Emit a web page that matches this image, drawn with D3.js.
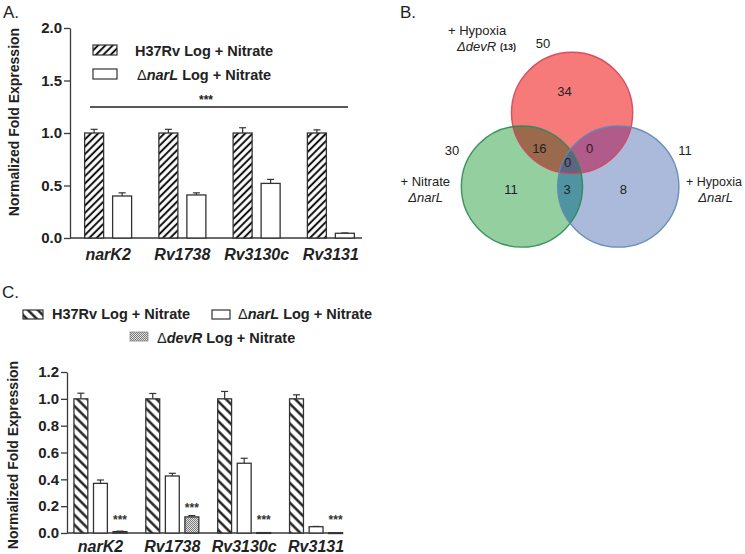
<!DOCTYPE html>
<html>
<head>
<meta charset="utf-8">
<script src="https://cdn.jsdelivr.net/npm/d3@7"></script>
<style>
  html, body { margin: 0; padding: 0; background: #fff; }
  svg { display: block; font-family: "Liberation Sans", Arial, sans-serif; }
</style>
</head>
<body>
<svg id="chart" width="745" height="554"></svg>
<script>
// ---------------- DATA ----------------
const genes = ["narK2", "Rv1738", "Rv3130c", "Rv3131"];

// Panel A
const seriesA = ["H37Rv", "narL"];
const h37rvA = [1.0, 1.0, 1.0, 1.0];
const h37rvErrA = [0.035, 0.035, 0.05, 0.03];
const narLA = [0.40, 0.41, 0.52, 0.045];
const narLErrA = [0.03, 0.02, 0.038, 0.003];
const yTicksA = [0.0, 0.5, 1.0, 1.5, 2.0];

// Panel C
const seriesC = ["H37Rv", "narL", "devR"];
const h37rvC = [1.0, 1.0, 1.0, 1.0];
const h37rvErrC = [0.042, 0.04, 0.055, 0.03];
const narLC = [0.37, 0.425, 0.52, 0.047];
const narLErrC = [0.025, 0.02, 0.037, 0.002];
const devRC = [0.01, 0.12, 0.003, 0.002];
const devRErrC = [0.004, 0.01, 0.0, 0.0];
const yTicksC = [0.0, 0.2, 0.4, 0.6, 0.8, 1.0, 1.2];

// Panel B (Venn)
const vennSets = ["devR", "nitrate", "hypoxia"];
const vennTotals = [50, 30, 11];
const vennRegions = ["devROnly", "devR_nitrate", "devR_hypoxia", "all", "nitrateOnly", "nitrate_hypoxia", "hypoxiaOnly"];
const vennCounts = [34, 16, 0, 0, 11, 3, 8];

// ---------------- DRAW ----------------
const svg = d3.select("#chart");
const defs = svg.append("defs");
const axisColor = "#3a3a3a";

function hatch(id, angle, spacing, sw) {
  const p = defs.append("pattern").attr("id", id).attr("patternUnits", "userSpaceOnUse")
    .attr("width", spacing).attr("height", spacing)
    .attr("patternTransform", `rotate(${angle})`);
  p.append("rect").attr("width", spacing).attr("height", spacing).attr("fill", "#fff");
  p.append("line").attr("x1", spacing / 2).attr("x2", spacing / 2).attr("y1", 0).attr("y2", spacing)
    .attr("stroke", "#111").attr("stroke-width", sw);
}
hatch("hatchA", 45, 5.2, 2);
hatch("hatchC", -45, 7, 2.3);
(function () {
  const p = defs.append("pattern").attr("id", "checker").attr("patternUnits", "userSpaceOnUse")
    .attr("width", 2).attr("height", 2);
  p.append("rect").attr("width", 2).attr("height", 2).attr("fill", "#e4e4e4");
  p.append("rect").attr("width", 1).attr("height", 1).attr("fill", "#7a7a7a");
  p.append("rect").attr("x", 1).attr("y", 1).attr("width", 1).attr("height", 1).attr("fill", "#7a7a7a");
})();

function panelLabel(x, y, t) {
  svg.append("text").attr("x", x).attr("y", y).attr("font-size", 17).attr("fill", "#222").text(t);
}

function yTitle(cx, cy) {
  svg.append("text").attr("transform", `translate(${cx},${cy}) rotate(-90)`)
    .attr("text-anchor", "middle").attr("font-size", 14).attr("font-weight", "bold").attr("fill", "#222")
    .text("Normalized Fold Expression");
}

function deltaText(sel, gene, rest) {
  sel.append("tspan").attr("font-weight", "normal").text("\u0394");
  sel.append("tspan").attr("font-style", "italic").text(gene);
  sel.append("tspan").text(rest);
}

function barPanel(opts) {
  const { x0, x1, xAxisEnd, yTop, yBottom, domainMax, ticks, tickFmt, series, values, errs,
    fills, innerWidth, innerPad, labelY } = opts;
  const y = d3.scaleLinear().domain([0, domainMax]).range([yBottom, yTop]);
  const xg = d3.scaleBand().domain(genes).range([x0, x1]);
  const xi = d3.scaleBand().domain(series).range([0, innerWidth]).paddingInner(innerPad);
  const g = svg.append("g");

  // y axis
  const yAxis = d3.axisLeft(y).tickValues(ticks).tickFormat(tickFmt).tickSize(6).tickSizeOuter(0);
  const ya = g.append("g").attr("transform", `translate(${opts.axisX},0)`).call(yAxis);
  ya.select(".domain").attr("stroke", axisColor).attr("stroke-width", 1.3);
  ya.selectAll(".tick line").attr("stroke", axisColor).attr("stroke-width", 1.3);
  ya.selectAll(".tick text").attr("font-size", 15).attr("font-weight", "bold").attr("fill", "#222")
    .attr("font-family", "Liberation Sans, Arial, sans-serif").attr("x", -8);

  // x axis line
  g.append("line").attr("x1", opts.axisX).attr("x2", xAxisEnd).attr("y1", y(0)).attr("y2", y(0))
    .attr("stroke", axisColor).attr("stroke-width", 1.3);

  // bars
  series.forEach((s, si) => {
    genes.forEach((gene, gi) => {
      const v = values[si][gi], e = errs[si][gi];
      const bx = xg(gene) + xg.bandwidth() / 2 - innerWidth / 2 + xi(s);
      const bw = xi.bandwidth();
      if (e > 0) {
        const cx = bx + bw / 2;
        g.append("line").attr("x1", cx).attr("x2", cx).attr("y1", y(v)).attr("y2", y(v + e))
          .attr("stroke", "#333").attr("stroke-width", 1.2);
        g.append("line").attr("x1", cx - 3.5).attr("x2", cx + 3.5).attr("y1", y(v + e)).attr("y2", y(v + e))
          .attr("stroke", "#333").attr("stroke-width", 1.2);
      }
      g.append("rect").attr("x", bx).attr("y", y(v)).attr("width", bw).attr("height", Math.max(0.8, y(0) - y(v)))
        .attr("fill", fills[si]).attr("stroke", "#333").attr("stroke-width", 1.3);
      if (opts.stars && opts.stars[si]) {
        g.append("text").attr("x", bx + bw / 2).attr("y", Math.min(y(v + e) - 4, y(0) - 9))
          .attr("text-anchor", "middle").attr("font-size", 12).attr("font-weight", "bold").attr("fill", "#333")
          .text("***");
      }
    });
  });

  // x labels
  g.selectAll("text.xl").data(genes).enter().append("text").attr("class", "xl")
    .attr("x", d => xg(d) + xg.bandwidth() / 2).attr("y", labelY).attr("text-anchor", "middle")
    .attr("font-size", 16).attr("font-weight", "bold").attr("font-style", "italic").attr("fill", "#222")
    .text(d => d);
  return { y, xg };
}

// ---------- Panel A ----------
panelLabel(3, 18, "A.");
yTitle(19, 122);
barPanel({
  axisX: 70, x0: 71, x1: 368, xAxisEnd: 362, yTop: 28, yBottom: 238, domainMax: 2.0,
  ticks: yTicksA, tickFmt: d3.format(".1f"), series: seriesA,
  values: [h37rvA, narLA], errs: [h37rvErrA, narLErrA],
  fills: ["url(#hatchA)", "#fff"], innerWidth: 47, innerPad: 9 / 28, labelY: 260
});
// legend A
svg.append("rect").attr("x", 93).attr("y", 45).attr("width", 24).attr("height", 10)
  .attr("fill", "url(#hatchA)").attr("stroke", "#333").attr("stroke-width", 1.2);
svg.append("text").attr("x", 135).attr("y", 55.5).attr("font-size", 14.5).attr("font-weight", "bold")
  .attr("fill", "#222").text("H37Rv Log + Nitrate");
svg.append("rect").attr("x", 93).attr("y", 69).attr("width", 24).attr("height", 10)
  .attr("fill", "#fff").attr("stroke", "#333").attr("stroke-width", 1.2);
deltaText(svg.append("text").attr("x", 137).attr("y", 79.5).attr("font-size", 14.5).attr("font-weight", "bold")
  .attr("fill", "#222"), "narL", " Log + Nitrate");
// significance line
svg.append("line").attr("x1", 90).attr("x2", 348).attr("y1", 107).attr("y2", 107)
  .attr("stroke", "#222").attr("stroke-width", 1.5);
svg.append("text").attr("x", 206).attr("y", 104).attr("text-anchor", "middle").attr("font-size", 12)
  .attr("font-weight", "bold").attr("fill", "#222").text("***");

// ---------- Panel C ----------
panelLabel(2, 298, "C.");
yTitle(18, 455);
barPanel({
  axisX: 67, x0: 64.5, x1: 352, xAxisEnd: 343, yTop: 372, yBottom: 533, domainMax: 1.2,
  ticks: yTicksC, tickFmt: d3.format(".1f"), series: seriesC,
  values: [h37rvC, narLC, devRC], errs: [h37rvErrC, narLErrC, devRErrC],
  fills: ["url(#hatchC)", "#fff", "url(#checker)"], innerWidth: 53, innerPad: 0.29, labelY: 552,
  stars: [false, false, true]
});
// legend C
svg.append("rect").attr("x", 23).attr("y", 310).attr("width", 20).attr("height", 9)
  .attr("fill", "url(#hatchC)").attr("stroke", "#333").attr("stroke-width", 1.2);
svg.append("text").attr("x", 52).attr("y", 319).attr("font-size", 14.5).attr("font-weight", "bold")
  .attr("fill", "#222").text("H37Rv Log + Nitrate");
svg.append("rect").attr("x", 212).attr("y", 310).attr("width", 18).attr("height", 9)
  .attr("fill", "#fff").attr("stroke", "#333").attr("stroke-width", 1.2);
deltaText(svg.append("text").attr("x", 238).attr("y", 319).attr("font-size", 14.5).attr("font-weight", "bold")
  .attr("fill", "#222"), "narL", " Log + Nitrate");
svg.append("rect").attr("x", 130).attr("y", 332).attr("width", 18).attr("height", 9)
  .attr("fill", "url(#checker)").attr("stroke", "#888").attr("stroke-width", 0.8);
deltaText(svg.append("text").attr("x", 157).attr("y", 342.5).attr("font-size", 14.5).attr("font-weight", "bold")
  .attr("fill", "#222"), "devR", " Log + Nitrate");

// ---------- Panel B (Venn) ----------
panelLabel(400, 18, "B.");
// layout of circles (unit coordinates), scaled into panel
const vx = d3.scaleLinear().domain([0, 1]).range([462, 680]);
const vy = d3.scaleLinear().domain([0, 1]).range([52, 247]);
const circleLayout = {
  devR: { cx: 0.505, cy: 0.312, r: 0.278 },
  nitrate: { cx: 0.275, cy: 0.69, r: 0.278 },
  hypoxia: { cx: 0.717, cy: 0.69, r: 0.278 }
};
const circ = vennSets.map(s => ({
  name: s, cx: vx(circleLayout[s].cx), cy: vy(circleLayout[s].cy),
  r: circleLayout[s].r * (vx(1) - vx(0))
}));
circ.forEach(c => {
  defs.append("clipPath").attr("id", "clip-" + c.name)
    .append("circle").attr("cx", c.cx).attr("cy", c.cy).attr("r", c.r);
});
const fillColor = { devR: "#f77a7a", nitrate: "#94cfa0", hypoxia: "#abbadb" };
const strokeColor = { devR: "#d2445a", nitrate: "#2b8a52", hypoxia: "#5f86b4" };
const vg = svg.append("g");
circ.forEach(c => vg.append("circle").attr("cx", c.cx).attr("cy", c.cy).attr("r", c.r).attr("fill", fillColor[c.name]));
function overlap(target, clips, color) {
  let g = vg;
  clips.forEach(cl => { g = g.append("g").attr("clip-path", `url(#clip-${cl})`); });
  const c = circ.find(d => d.name === target);
  g.append("circle").attr("cx", c.cx).attr("cy", c.cy).attr("r", c.r).attr("fill", color);
}
overlap("nitrate", ["devR"], "#9b6a4c");
overlap("hypoxia", ["devR"], "#b15b8b");
overlap("hypoxia", ["nitrate"], "#4e95a1");
overlap("hypoxia", ["nitrate", "devR"], "#5d6582");
circ.forEach(c => vg.append("circle").attr("cx", c.cx).attr("cy", c.cy).attr("r", c.r)
  .attr("fill", "none").attr("stroke", strokeColor[c.name]).attr("stroke-width", 1.4).attr("stroke-opacity", 0.9));

// region counts (label anchor positions in unit coords)
const regionPos = {
  devROnly: [0.47, 0.2], devR_nitrate: [0.355, 0.49], devR_hypoxia: [0.585, 0.49], all: [0.485, 0.565],
  nitrateOnly: [0.225, 0.7], nitrate_hypoxia: [0.482, 0.7], hypoxiaOnly: [0.74, 0.7]
};
vg.selectAll("text.rc").data(vennRegions).enter().append("text").attr("class", "rc")
  .attr("x", (d) => vx(regionPos[d][0])).attr("y", d => vy(regionPos[d][1]) + 5)
  .attr("text-anchor", "middle").attr("font-size", 13).attr("fill", "#222")
  .text((d, i) => vennCounts[i]);

// totals
const totalPos = { devR: [543, 48], nitrate: [452, 155], hypoxia: [685, 155] };
vennSets.forEach((s, i) => {
  svg.append("text").attr("x", totalPos[s][0]).attr("y", totalPos[s][1]).attr("text-anchor", "middle")
    .attr("font-size", 13).attr("fill", "#222").text(vennTotals[i]);
});

// set names
svg.append("text").attr("x", 448).attr("y", 35).attr("font-size", 13).attr("fill", "#222").text("+ Hypoxia");
(function () {
  const t = svg.append("text").attr("x", 457).attr("y", 51).attr("font-size", 13).attr("fill", "#222");
  t.append("tspan").attr("font-style", "italic").text("\u0394devR");
  t.append("tspan").attr("font-size", 9).attr("font-weight", "bold").attr("dx", 4).attr("dy", -1).text("(13)");
})();
svg.append("text").attr("x", 450).attr("y", 186).attr("text-anchor", "end").attr("font-size", 13).attr("fill", "#222").text("+ Nitrate");
svg.append("text").attr("x", 443).attr("y", 202).attr("text-anchor", "end").attr("font-size", 13).attr("font-style", "italic").attr("fill", "#222").text("\u0394narL");
svg.append("text").attr("x", 742).attr("y", 186).attr("text-anchor", "end").attr("font-size", 12.5).attr("fill", "#222").text("+ Hypoxia");
svg.append("text").attr("x", 733).attr("y", 202).attr("text-anchor", "end").attr("font-size", 13).attr("font-style", "italic").attr("fill", "#222").text("\u0394narL");
</script>
</body>
</html>
